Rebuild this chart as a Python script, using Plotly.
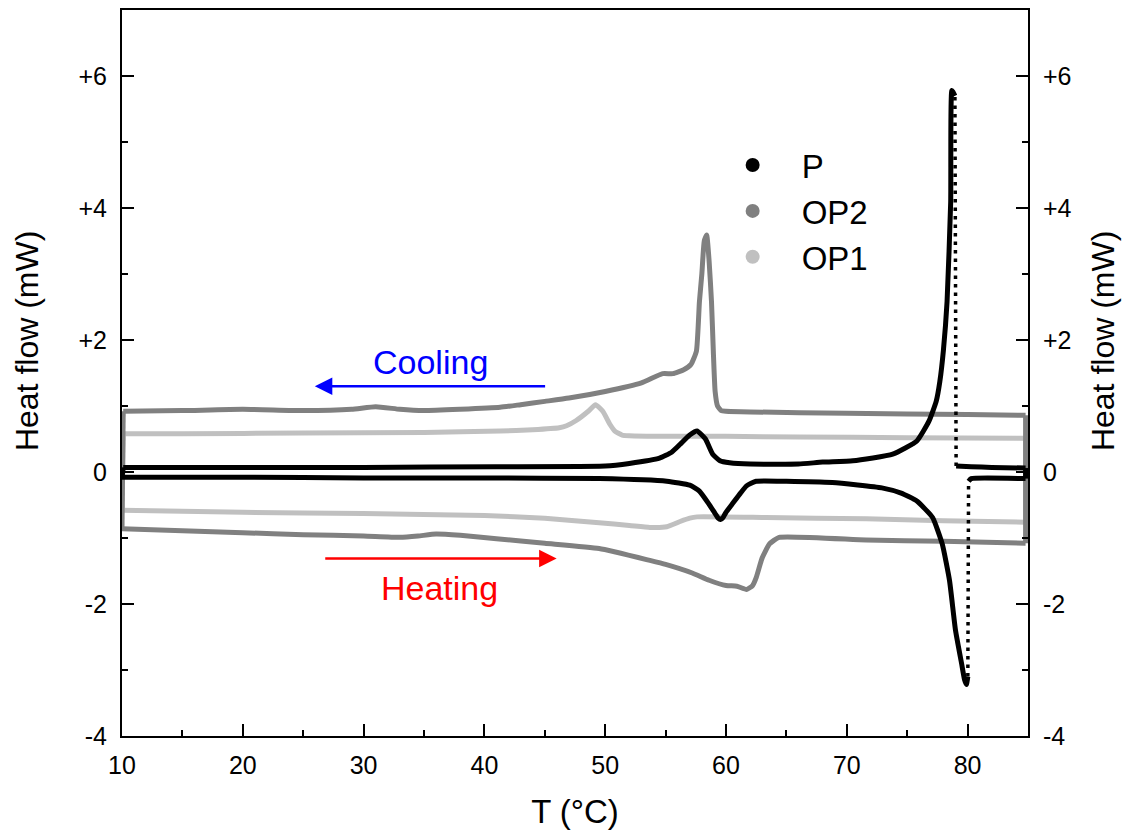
import numpy as np
import plotly.graph_objects as go

# ---------------- data ----------------
# P
P_heat_T = [10.0, 20, 30, 40, 49.5, 55.1, 57.0, 57.8, 58.6, 59.1, 59.35, 59.55, 59.75, 60.0, 60.5, 61.2, 61.7, 62.5,
            65, 68.8, 72.9, 74.5, 75.8, 77.1, 77.9, 78.5, 79.0, 79.5, 79.75, 79.9, 80.02, 80.08, 80.3, 84.8]
P_heat_H = [-0.08, -0.08, -0.09, -0.09, -0.10, -0.14, -0.20, -0.29, -0.49, -0.63, -0.70, -0.72, -0.69, -0.61, -0.49, -0.32, -0.21, -0.14,
            -0.14, -0.16, -0.24, -0.32, -0.44, -0.69, -1.09, -1.64, -2.40, -2.90, -3.15, -3.22, -3.10, -0.14, -0.10, -0.10]
P_cool_T = [84.8, 82, 80.3, 79.05, 78.95, 78.7, 78.6, 78.3, 78.0, 77.7, 77.4, 76.8, 75.8, 73.8, 70.5, 68, 66,
            62, 60.3, 59.5, 58.9, 58.3, 57.6, 57.0, 56.2, 55.5, 54.5, 52, 50, 41, 30, 20, 10.1]
P_cool_H = [0.06, 0.07, 0.08, 0.09, 5.70, 5.78, 4.09, 2.58, 1.85, 1.37, 1.07, 0.77, 0.47, 0.27, 0.17, 0.15, 0.12,
            0.12, 0.14, 0.17, 0.27, 0.50, 0.62, 0.56, 0.42, 0.30, 0.21, 0.13, 0.09, 0.08, 0.07, 0.07, 0.07]

# OP2
OP2_heat_T = [10.0, 15, 20, 25, 30, 33, 34.5, 36, 38, 41, 45, 49.5, 53.7, 55, 57.2, 58.6, 60.0, 60.9, 61.7,
              62.2, 62.5, 63.0, 63.6, 64.4, 71.6, 78, 84.8]
OP2_heat_H = [-0.86, -0.89, -0.92, -0.95, -0.97, -0.99, -0.97, -0.94, -0.96, -1.01, -1.08, -1.16, -1.34, -1.40, -1.53, -1.64,
              -1.72, -1.73, -1.78, -1.72, -1.60, -1.30, -1.09, -0.99, -1.03, -1.05, -1.08]
OP2_cool_T = [84.8, 80, 70, 62, 60, 59.6, 59.3, 59.1, 58.95, 58.8, 58.6, 58.4, 58.2, 58.0, 57.8, 57.55, 57.1,
              56.5, 55.6, 54.75, 53, 50, 47, 45, 43, 41.3, 38, 35, 33, 31, 29, 25, 20, 15, 10.1]
OP2_cool_H = [0.86, 0.87, 0.89, 0.91, 0.92, 0.93, 1.00, 1.22, 1.83, 2.58, 3.20, 3.59, 3.50, 3.00, 2.58, 1.83, 1.63,
              1.55, 1.49, 1.49, 1.35, 1.22, 1.12, 1.07, 1.02, 0.98, 0.95, 0.93, 0.95, 0.99, 0.95, 0.93, 0.95, 0.93, 0.92]

# OP1
OP1_heat_T = [10.0, 20, 30, 40, 45, 49.5, 52, 53.7, 55.1, 56.2, 57.0, 57.6, 63.3, 71.6, 78, 84.8]
OP1_heat_H = [-0.58, -0.61, -0.63, -0.66, -0.70, -0.77, -0.81, -0.84, -0.83, -0.75, -0.70, -0.68, -0.69, -0.71, -0.74, -0.76]
OP1_cool_T = [84.8, 75, 66, 60, 55, 52, 51.4, 50.8, 50.4, 49.8, 49.2, 48.6, 47.6, 46.8, 46.2, 44, 41.3, 35, 25, 15, 10.1]
OP1_cool_H = [0.51, 0.52, 0.53, 0.54, 0.54, 0.55, 0.56, 0.62, 0.72, 0.92, 1.02, 0.92, 0.78, 0.70, 0.67, 0.64, 0.62,
              0.60, 0.59, 0.58, 0.58]

x_ticks = [10, 20, 30, 40, 50, 60, 70, 80]
y_ticks = [-4, -2, 0, 2, 4, 6]
y_ticktext = ["-4", "-2", "0", "+2", "+4", "+6"]

names = ["P", "OP2", "OP1"]
colors = {"P": "#000000", "OP2": "#808080", "OP1": "#c0c0c0"}

FONT = "Liberation Sans, Arial, sans-serif"
LW = 5
SMOOTH = 0.45

fig = go.Figure()


def line_trace(x, y, color, spline=True):
    ln = dict(color=color, width=LW)
    if spline:
        ln.update(shape="spline", smoothing=SMOOTH)
    fig.add_trace(go.Scatter(x=list(x), y=list(y), mode="lines", line=ln, showlegend=False, hoverinfo="skip"))


def branch(T, H, color, split_jump=False):
    if not split_jump:
        line_trace(T, H, color)
        return
    j = int(np.argmax(np.abs(np.diff(H))))
    line_trace(T[:j + 1], H[:j + 1], color)
    line_trace(T[j + 1:], H[j + 1:], color)
    fig.add_trace(go.Scatter(x=[T[j], T[j + 1]], y=[H[j], H[j + 1]], mode="lines",
                             line=dict(color=color, width=3.5, dash="3.5px,5px"),
                             showlegend=False, hoverinfo="skip"))


def sample(hT, hH, cT, cH, color, split_jump=False):
    branch(hT, hH, color, split_jump)
    branch(cT, cH, color, split_jump)
    # isothermal connections at the two ends of the temperature programme
    line_trace([hT[-1], cT[0]], [hH[-1], cH[0]], color, spline=False)
    line_trace([cT[-1], hT[0]], [cH[-1], hH[0]], color, spline=False)


sample(OP1_heat_T, OP1_heat_H, OP1_cool_T, OP1_cool_H, colors["OP1"])
sample(OP2_heat_T, OP2_heat_H, OP2_cool_T, OP2_cool_H, colors["OP2"])
sample(P_heat_T, P_heat_H, P_cool_T, P_cool_H, colors["P"], split_jump=True)

# legend-only entries
for nm in names:
    fig.add_trace(go.Scatter(x=[None], y=[None], mode="markers", name=nm,
                             marker=dict(color=colors[nm], size=14)))

# right-axis helper trace
fig.add_trace(go.Scatter(x=[None], y=[None], yaxis="y2", showlegend=False, hoverinfo="skip"))

axis_common = dict(showline=True, linewidth=2, linecolor="black", ticks="inside", ticklen=12, tickwidth=2,
                   tickcolor="black", showgrid=False, zeroline=False,
                   tickfont=dict(family=FONT, size=25, color="black"))

fig.update_layout(
    width=1126, height=834,
    margin=dict(l=122, r=98, t=8, b=98),
    paper_bgcolor="white", plot_bgcolor="white",
    font=dict(family=FONT, color="black"),
    xaxis=dict(range=[10, 85], tickvals=x_ticks, mirror=True,
               minor=dict(tickvals=[15, 25, 35, 45, 55, 65, 75, 85], ticks="inside", ticklen=6, tickwidth=2,
                          tickcolor="black"),
               title=dict(text="T (°C)", font=dict(family=FONT, size=33), standoff=22),
               ticklabelstandoff=6,
               **axis_common),
    yaxis=dict(range=[-4, 7], tickvals=y_ticks, ticktext=y_ticktext,
               minor=dict(tickvals=[-3, -1, 1, 3, 5], ticks="inside", ticklen=6, tickwidth=2, tickcolor="black"),
               ticklabelstandoff=8,
               **axis_common),
    yaxis2=dict(range=[-4, 7], tickvals=y_ticks, ticktext=y_ticktext, overlaying="y", side="right",
                minor=dict(tickvals=[-3, -1, 1, 3, 5], ticks="inside", ticklen=6, tickwidth=2, tickcolor="black"),
                ticklabelstandoff=8,
                **axis_common),
    legend=dict(x=0.642, y=0.825, xanchor="left", yanchor="top", bgcolor="rgba(0,0,0,0)",
                font=dict(family=FONT, size=33), itemwidth=88, tracegroupgap=0),
    showlegend=True,
)

# y-axis titles (left and right), positioned as in the reference
plot_l, plot_r, plot_t, plot_b = 122, 1028, 8, 736


def px_to_paper(px, py):
    return (px - plot_l) / (plot_r - plot_l), 1 - (py - plot_t) / (plot_b - plot_t)


for px in [27, 1103]:
    xp, yp = px_to_paper(px, 340)
    fig.add_annotation(x=xp, y=yp, xref="paper", yref="paper", text="Heat flow (mW)",
                       textangle=-90, showarrow=False, xanchor="center", yanchor="middle",
                       font=dict(family=FONT, size=32, color="black"))

# annotations: cooling / heating arrows and labels
fig.add_annotation(x=25.96, y=1.30, ax=45.15, ay=1.30, xref="x", yref="y", axref="x", ayref="y",
                   showarrow=True, arrowhead=2, arrowsize=1.4, arrowwidth=2.5, arrowcolor="#0000ff", text="")
fig.add_annotation(x=45.98, y=-1.31, ax=26.7, ay=-1.31, xref="x", yref="y", axref="x", ayref="y",
                   showarrow=True, arrowhead=2, arrowsize=1.4, arrowwidth=2.5, arrowcolor="#ff0000", text="")
fig.add_annotation(x=35.5, y=1.66, xref="x", yref="y", text="Cooling", showarrow=False,
                   font=dict(family=FONT, size=34, color="#0000ff"))
fig.add_annotation(x=36.3, y=-1.75, xref="x", yref="y", text="Heating", showarrow=False,
                   font=dict(family=FONT, size=34, color="#ff0000"))

fig.write_html("out.html")
